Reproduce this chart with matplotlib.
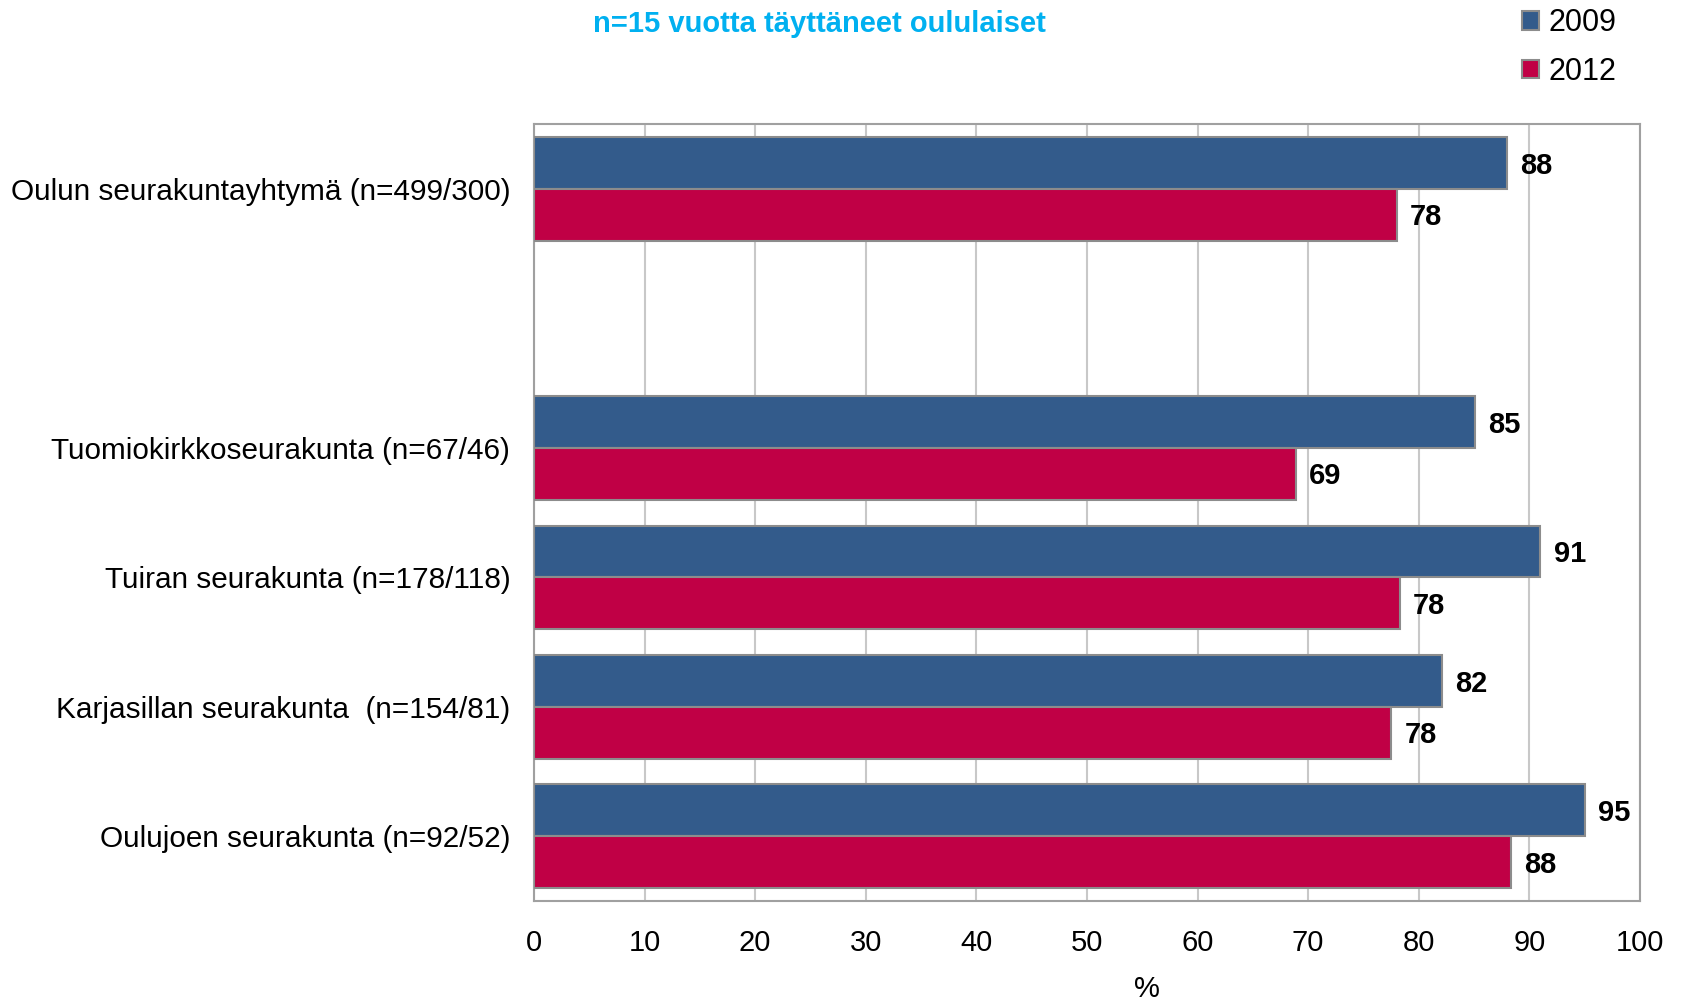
import matplotlib
matplotlib.use('Agg')
import matplotlib.pyplot as plt
import numpy as np

# Chart data
categories = [
    'Oulun seurakuntayhtymä (n=499/300)',
    '',
    'Tuomiokirkkoseurakunta (n=67/46)',
    'Tuiran seurakunta (n=178/118)',
    'Karjasillan seurakunta  (n=154/81)',
    'Oulujoen seurakunta (n=92/52)',
]
values_2009 = [88.0, None, 85.1, 91.0, 82.1, 95.0]
values_2012 = [78.0, None, 68.9, 78.3, 77.5, 88.3]
labels_2009 = ['88', '', '85', '91', '82', '95']
labels_2012 = ['78', '', '69', '78', '78', '88']
series_names = ['2009', '2012']
x_ticks = [0, 10, 20, 30, 40, 50, 60, 70, 80, 90, 100]

title = 'n=15 vuotta täyttäneet oululaiset'
blue = '#335B8B'
red = '#C00045'
edge = '#8C8C8C'
fs = 21

plt.rcParams['font.family'] = ['Liberation Sans', 'DejaVu Sans']

fig = plt.figure(figsize=(16.86, 10.02), dpi=100)
ax = fig.add_axes([0.3167, 0.1008, 0.656, 0.7752])

y = np.arange(len(categories))
h = 0.4
v09 = [np.nan if v is None else v for v in values_2009]
v12 = [np.nan if v is None else v for v in values_2012]
ax.barh(y - h / 2, v09, height=h, color=blue, edgecolor=edge, linewidth=1.5,
        label=series_names[0], zorder=3)
ax.barh(y + h / 2, v12, height=h, color=red, edgecolor=edge, linewidth=1.5,
        label=series_names[1], zorder=3)

# value labels next to bar ends
for yi, v, lab in zip(y, v09, labels_2009):
    if lab:
        ax.text(v + 1.2, yi - h / 2 + 0.02, lab, va='center', ha='left',
                fontsize=fs, fontweight='bold')
for yi, v, lab in zip(y, v12, labels_2012):
    if lab:
        ax.text(v + 1.2, yi + h / 2 + 0.02, lab, va='center', ha='left',
                fontsize=fs, fontweight='bold')

ax.set_xlim(0, 100)
ax.set_ylim(len(categories) - 0.5, -0.5)
ax.set_xticks(x_ticks)
ax.set_xticklabels([str(t) for t in x_ticks], fontsize=fs)
ax.set_yticks(y)
ax.set_yticklabels(categories, fontsize=21.4)
ax.tick_params(axis='x', length=0, pad=20)
ax.tick_params(axis='y', length=0, pad=17)
ax.grid(axis='x', color='#C8C8C8', linewidth=1.5, zorder=0)
for s in ax.spines.values():
    s.set_color('#A0A0A0')
    s.set_linewidth(1.5)

fig.text(0.486, 0.976, title, ha='center', va='center', fontsize=fs,
         fontweight='bold', color='#00B0F0')
fig.text(0.68, 0.013, '%', ha='center', va='center', fontsize=fs)

# legend at top right
ax.legend(loc='upper left', bbox_to_anchor=(0.8825, 1.165), frameon=False,
          fontsize=22, handlelength=0.55, handleheight=0.55, handletextpad=0.3,
          labelspacing=0.6, borderaxespad=0)

fig.savefig('out.png', dpi=100)
